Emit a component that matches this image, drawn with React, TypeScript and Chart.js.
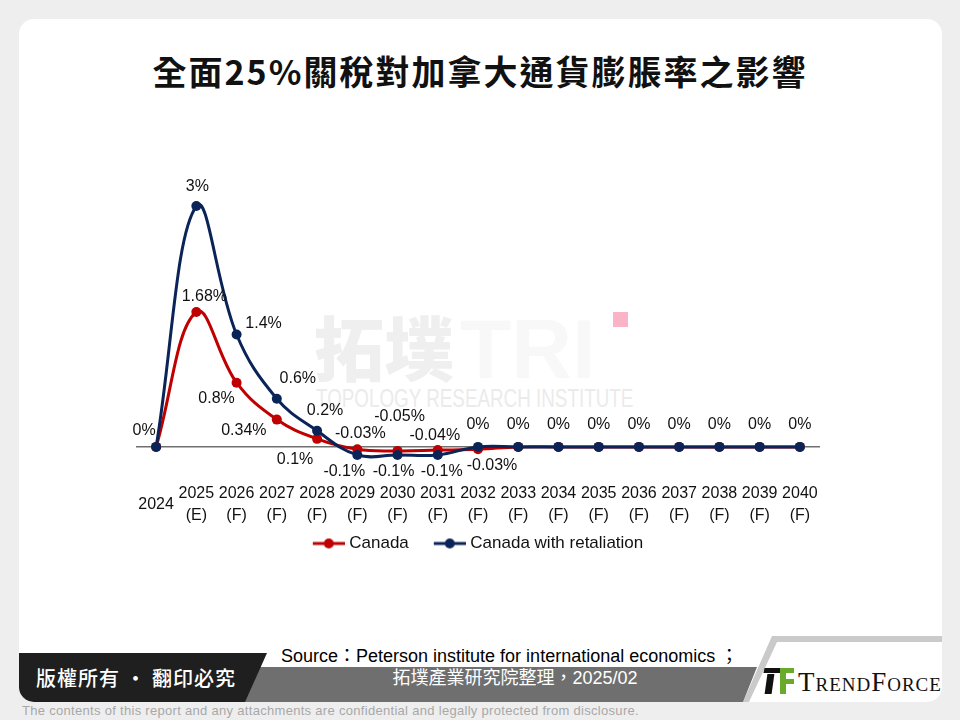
import React, { useEffect, useRef } from "react";
import { Chart, registerables } from "chart.js";

Chart.register(...registerables);

// ---------- data ----------
const categoryLabels: string[][] = [
  ["2024"],
  ["2025", "(E)"],
  ["2026", "(F)"],
  ["2027", "(F)"],
  ["2028", "(F)"],
  ["2029", "(F)"],
  ["2030", "(F)"],
  ["2031", "(F)"],
  ["2032", "(F)"],
  ["2033", "(F)"],
  ["2034", "(F)"],
  ["2035", "(F)"],
  ["2036", "(F)"],
  ["2037", "(F)"],
  ["2038", "(F)"],
  ["2039", "(F)"],
  ["2040", "(F)"],
];

const canadaValues: number[] = [0, 1.68, 0.8, 0.34, 0.1, -0.03, -0.05, -0.04, -0.03, 0, 0, 0, 0, 0, 0, 0, 0];
const retaliationValues: number[] = [0, 3, 1.4, 0.6, 0.2, -0.1, -0.1, -0.1, 0, 0, 0, 0, 0, 0, 0, 0, 0];

const seriesNames: string[] = ["Canada", "Canada with retaliation"];

const titleText = "全面25%關稅對加拿大通貨膨脹率之影響";

// ---------- styles ----------
const RED = "#c00000";
const NAVY = "#0b2458";
const SANS = "'Liberation Sans', Arial, sans-serif";
const CJK = "'Liberation Sans', 'Noto Sans CJK TC', sans-serif";

// label placement (dx, dy in px from the point), null = label hidden
const canadaLabelOffsets: ([number, number] | null)[] = [
  null, [8, -15], [-20, 16], [-33, 11], [-22, 21], [3, -16], [2, -34], [-3, -15], [14, 16],
  null, null, null, null, null, null, null, null,
];
const retaliationLabelOffsets: ([number, number] | null)[] = [
  [-12, -16], [1, -19], [27, -11], [21, -20], [8, -20], [-13, 17], [-4, 17], [4, 17], [0, -22],
  [0, -22], [0, -22], [0, -22], [0, -22], [0, -22], [0, -22], [0, -22], [0, -22],
];

const valueLabelPlugin = {
  id: "valueLabels",
  afterDatasetsDraw(chart: any) {
    const ctx = chart.ctx as CanvasRenderingContext2D;
    const offsetsByDataset = [canadaLabelOffsets, retaliationLabelOffsets];
    ctx.save();
    ctx.font = `16px ${SANS}`;
    ctx.fillStyle = "#111111";
    ctx.textAlign = "center";
    ctx.textBaseline = "middle";
    chart.data.datasets.forEach((ds: any, di: number) => {
      const meta = chart.getDatasetMeta(di);
      const offs = offsetsByDataset[di];
      meta.data.forEach((pt: any, i: number) => {
        const o = offs[i];
        if (!o) return;
        ctx.fillText(`${ds.data[i]}%`, pt.x + o[0], pt.y + o[1]);
      });
    });
    ctx.restore();
  },
};

// legend marker: a short line with a dot, placed at the right of the legend box
function makeLegendMarker(color: string): HTMLCanvasElement {
  const c = document.createElement("canvas");
  c.width = 50;
  c.height = 12;
  const g = c.getContext("2d")!;
  g.strokeStyle = color;
  g.lineWidth = 3;
  g.beginPath();
  g.moveTo(18, 6);
  g.lineTo(50, 6);
  g.stroke();
  g.fillStyle = color;
  g.beginPath();
  g.arc(34, 6, 5, 0, Math.PI * 2);
  g.fill();
  return c;
}

function LineChart() {
  const ref = useRef<HTMLCanvasElement | null>(null);
  useEffect(() => {
    if (!ref.current) return;
    const markers = [makeLegendMarker(RED), makeLegendMarker(NAVY)];
    const chart = new Chart(ref.current, {
      type: "line",
      data: {
        labels: categoryLabels,
        datasets: [
          {
            label: seriesNames[0],
            data: canadaValues,
            borderColor: RED,
            backgroundColor: RED,
            borderWidth: 3,
            pointRadius: 5,
            pointBackgroundColor: RED,
            pointBorderColor: RED,
            pointBorderWidth: 0,
            tension: 0.4,
            order: 2,
          },
          {
            label: seriesNames[1],
            data: retaliationValues,
            borderColor: NAVY,
            backgroundColor: NAVY,
            borderWidth: 3,
            pointRadius: 5,
            pointBackgroundColor: NAVY,
            pointBorderColor: NAVY,
            pointBorderWidth: 0,
            tension: 0.4,
            order: 1,
          },
        ],
      },
      options: {
        responsive: false,
        animation: false,
        events: [],
        layout: { padding: { top: 32, left: 22, right: 20, bottom: 0 } },
        scales: {
          x: {
            offset: true,
            grid: { display: false, drawTicks: false },
            border: { display: false },
            ticks: {
              autoSkip: false,
              maxRotation: 0,
              minRotation: 0,
              padding: 15,
              crossAlign: "center",
              color: "#111111",
              font: { family: "'Liberation Sans Narrow', 'Liberation Sans', Arial, sans-serif", size: 16, lineHeight: 1.35 },
            },
            afterFit: (axis: any) => {
              axis.height = 45;
            },
          },
          y: {
            min: -0.4,
            max: 3.3,
            border: { display: false },
            ticks: { display: false },
            afterFit: (axis: any) => {
              axis.width = 14;
            },
            afterBuildTicks: (axis: any) => {
              axis.ticks = [{ value: 0 }];
            },
            grid: {
              drawTicks: false,
              lineWidth: 1.5,
              color: (c: any) => (c.tick && c.tick.value === 0 ? "#707070" : "rgba(0,0,0,0)"),
            },
          },
        },
        plugins: {
          tooltip: { enabled: false },
          title: { display: false },
          legend: {
            display: true,
            position: "bottom",
            labels: {
              usePointStyle: true,
              pointStyleWidth: 42,
              padding: 11,
              color: "#111111",
              font: { family: SANS, size: 17 },
              sort: (a: any, b: any) => a.datasetIndex - b.datasetIndex,
              generateLabels: (ch: any) => {
                const items = (Chart.defaults.plugins.legend.labels as any).generateLabels(ch);
                return items.map((it: any) => ({ ...it, pointStyle: markers[it.datasetIndex] }));
              },
            },
          },
        },
      } as any,
      plugins: [valueLabelPlugin],
    });
    return () => chart.destroy();
  }, []);
  return (
    <canvas
      ref={ref}
      width={740}
      height={412}
      style={{ position: "absolute", left: 100, top: 150, width: 740, height: 412 }}
    />
  );
}

export default function App() {
  return (
    <div
      style={{
        position: "absolute",
        left: 0,
        top: 0,
        width: 960,
        height: 720,
        background: "#eeeeee",
        overflow: "hidden",
        fontFamily: SANS,
      }}
    >
      {/* card */}
      <div
        style={{
          position: "absolute",
          left: 19,
          top: 19,
          width: 923,
          height: 683,
          background: "#ffffff",
          borderRadius: 15,
          overflow: "hidden",
        }}
      >
        {/* light grey frame on the right of the footer */}
        <div
          style={{
            position: "absolute",
            left: 720,
            top: 617,
            width: 203,
            height: 66,
            background: "#cacaca",
            clipPath: "polygon(33px 0, 203px 0, 203px 6px, 38px 6px, 10px 66px, 4px 66px)",
          }}
        />
        {/* grey band */}
        <div
          style={{
            position: "absolute",
            left: 220,
            top: 648,
            width: 520,
            height: 35,
            background: "#6f6f6f",
            clipPath: "polygon(11px 0, 518px 0, 504px 35px, 0 35px)",
          }}
        />
        {/* dark band */}
        <div
          style={{
            position: "absolute",
            left: 0,
            top: 634,
            width: 248,
            height: 49,
            background: "#1f1f1f",
            clipPath: "polygon(0 0, 248px 0, 226px 49px, 0 49px)",
          }}
        />
      </div>

      {/* title */}
      <div
        style={{
          position: "absolute",
          left: 0,
          top: 50,
          width: 960,
          textAlign: "center",
          fontFamily: "'Noto Sans CJK TC', sans-serif",
          fontWeight: 700,
          fontSize: 34,
          lineHeight: "42px",
          letterSpacing: 2,
          color: "#111111",
          whiteSpace: "nowrap",
        }}
      >
        {titleText}
      </div>

      {/* watermark */}
      <div
        style={{
          position: "absolute",
          left: 314,
          top: 306,
          fontFamily: "'Noto Sans CJK TC', sans-serif",
          fontWeight: 900,
          fontSize: 70,
          lineHeight: "80px",
          color: "#efefef",
          whiteSpace: "nowrap",
        }}
      >
        拓墣
      </div>
      <div
        style={{
          position: "absolute",
          left: 460,
          top: 304,
          fontFamily: SANS,
          fontWeight: 700,
          fontSize: 84,
          lineHeight: "90px",
          color: "#f8f8f8",
          whiteSpace: "nowrap",
        }}
      >
        TRI
      </div>
      <div
        style={{
          position: "absolute",
          left: 613,
          top: 312,
          width: 15,
          height: 15,
          background: "#fbb3c8",
        }}
      />
      <div
        style={{
          position: "absolute",
          left: 316,
          top: 383,
          fontFamily: SANS,
          fontSize: 26,
          lineHeight: "30px",
          color: "#ebebeb",
          whiteSpace: "nowrap",
          transform: "scaleX(0.724)",
          transformOrigin: "left top",
        }}
      >
        TOPOLOGY RESEARCH INSTITUTE
      </div>

      <LineChart />

      {/* footer texts */}
      <div
        style={{
          position: "absolute",
          left: 281,
          top: 645,
          fontFamily: CJK,
          fontSize: 18,
          lineHeight: "22px",
          color: "#000000",
          whiteSpace: "nowrap",
        }}
      >
        Source：Peterson institute for international economics ；
      </div>
      <div
        style={{
          position: "absolute",
          left: 240,
          top: 667,
          width: 550,
          textAlign: "center",
          fontFamily: CJK,
          fontSize: 18,
          lineHeight: "22px",
          color: "#ffffff",
          whiteSpace: "nowrap",
        }}
      >
        拓墣產業研究院整理，2025/02
      </div>
      <div
        style={{
          position: "absolute",
          left: 36,
          top: 664,
          fontFamily: "'Noto Sans CJK TC', sans-serif",
          fontWeight: 500,
          fontSize: 20,
          lineHeight: "28px",
          letterSpacing: 1,
          color: "#ffffff",
          whiteSpace: "nowrap",
        }}
      >
        版權所有 · 翻印必究
      </div>

      {/* TrendForce logo */}
      <div style={{ position: "absolute", left: 764, top: 668, width: 17, height: 5, background: "#111", transform: "skewX(-12deg)" }} />
      <div style={{ position: "absolute", left: 766, top: 674, width: 7, height: 20, background: "#111", transform: "skewX(-8deg)" }} />
      <div style={{ position: "absolute", left: 780, top: 668, width: 14, height: 26, background: "#6aaa2a" }} />
      <div style={{ position: "absolute", left: 786, top: 673, width: 8, height: 6, background: "#ffffff" }} />
      <div style={{ position: "absolute", left: 786, top: 684, width: 8, height: 10, background: "#ffffff" }} />
      <div
        style={{
          position: "absolute",
          left: 798,
          top: 666,
          fontFamily: "'Liberation Serif', 'DejaVu Serif', serif",
          fontSize: 27,
          lineHeight: "32px",
          fontVariant: "small-caps",
          letterSpacing: 1,
          color: "#111111",
          whiteSpace: "nowrap",
        }}
      >
        TrendForce
      </div>

      {/* disclaimer */}
      <div
        style={{
          position: "absolute",
          left: 22,
          top: 703,
          fontFamily: SANS,
          fontSize: 13,
          lineHeight: "16px",
          letterSpacing: 0.3,
          color: "#a8a8a8",
          whiteSpace: "nowrap",
        }}
      >
        The contents of this report and any attachments are confidential and legally protected from disclosure.
      </div>
    </div>
  );
}
